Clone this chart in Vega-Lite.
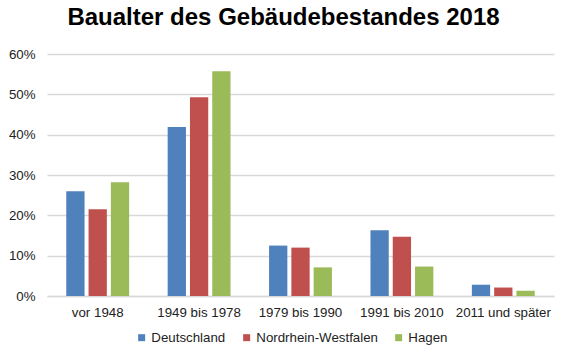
{
  "$schema": "https://vega.github.io/schema/vega-lite/v6.json",
  "width": 507,
  "height": 242,
  "autosize": {"type": "none"},
  "padding": {"left": 47, "top": 54, "right": 15, "bottom": 63},
  "background": "white",
  "title": {
    "text": "Baualter des Gebäudebestandes 2018",
    "font": "Liberation Sans",
    "fontSize": 24,
    "fontWeight": "bold",
    "color": "#000000",
    "anchor": "middle",
    "dx": -17,
    "offset": 17
  },
  "data": {
    "values": [
      {"kat": "vor 1948", "region": "Deutschland", "wert": 0.260},
      {"kat": "vor 1948", "region": "Nordrhein-Westfalen", "wert": 0.215},
      {"kat": "vor 1948", "region": "Hagen", "wert": 0.282},
      {"kat": "1949 bis 1978", "region": "Deutschland", "wert": 0.419},
      {"kat": "1949 bis 1978", "region": "Nordrhein-Westfalen", "wert": 0.493},
      {"kat": "1949 bis 1978", "region": "Hagen", "wert": 0.557},
      {"kat": "1979 bis 1990", "region": "Deutschland", "wert": 0.125},
      {"kat": "1979 bis 1990", "region": "Nordrhein-Westfalen", "wert": 0.120},
      {"kat": "1979 bis 1990", "region": "Hagen", "wert": 0.071},
      {"kat": "1991 bis 2010", "region": "Deutschland", "wert": 0.163},
      {"kat": "1991 bis 2010", "region": "Nordrhein-Westfalen", "wert": 0.147},
      {"kat": "1991 bis 2010", "region": "Hagen", "wert": 0.073},
      {"kat": "2011 und später", "region": "Deutschland", "wert": 0.028},
      {"kat": "2011 und später", "region": "Nordrhein-Westfalen", "wert": 0.021},
      {"kat": "2011 und später", "region": "Hagen", "wert": 0.013}
    ]
  },
  "mark": {"type": "bar"},
  "encoding": {
    "x": {
      "field": "kat",
      "type": "nominal",
      "sort": ["vor 1948", "1949 bis 1978", "1979 bis 1990", "1991 bis 2010", "2011 und später"],
      "scale": {"paddingInner": 0.38, "paddingOuter": 0.19},
      "axis": {
        "title": null,
        "labelAngle": 0,
        "labelFont": "Liberation Sans",
        "labelFontSize": 13.3,
        "labelColor": "#222222",
        "labelPadding": 9,
        "ticks": false,
        "domain": true,
        "domainColor": "#d9d9d9",
        "domainWidth": 1.5
      }
    },
    "xOffset": {
      "field": "region",
      "type": "nominal",
      "sort": ["Deutschland", "Nordrhein-Westfalen", "Hagen"],
      "scale": {"paddingInner": 0.18}
    },
    "y": {
      "field": "wert",
      "type": "quantitative",
      "scale": {"domain": [0, 0.6], "nice": false},
      "axis": {
        "title": null,
        "format": ".0%",
        "values": [0, 0.1, 0.2, 0.3, 0.4, 0.5, 0.6],
        "labelFont": "Liberation Sans",
        "labelFontSize": 13.3,
        "labelColor": "#222222",
        "labelPadding": 12,
        "ticks": false,
        "domain": false,
        "grid": true,
        "gridColor": "#d9d9d9",
        "gridWidth": 1.5
      }
    },
    "color": {
      "field": "region",
      "type": "nominal",
      "sort": ["Deutschland", "Nordrhein-Westfalen", "Hagen"],
      "scale": {
        "domain": ["Deutschland", "Nordrhein-Westfalen", "Hagen"],
        "range": ["#4f81bd", "#c0504d", "#9bbb59"]
      },
      "legend": {
        "title": null,
        "orient": "none",
        "direction": "horizontal",
        "legendX": 88,
        "legendY": 277,
        "symbolType": "square",
        "symbolSize": 49,
        "symbolStrokeWidth": 0,
        "labelFont": "Liberation Sans",
        "labelFontSize": 13.3,
        "labelColor": "#222222",
        "labelOffset": 3,
        "columnPadding": 14
      }
    }
  },
  "config": {"view": {"stroke": null}}
}
